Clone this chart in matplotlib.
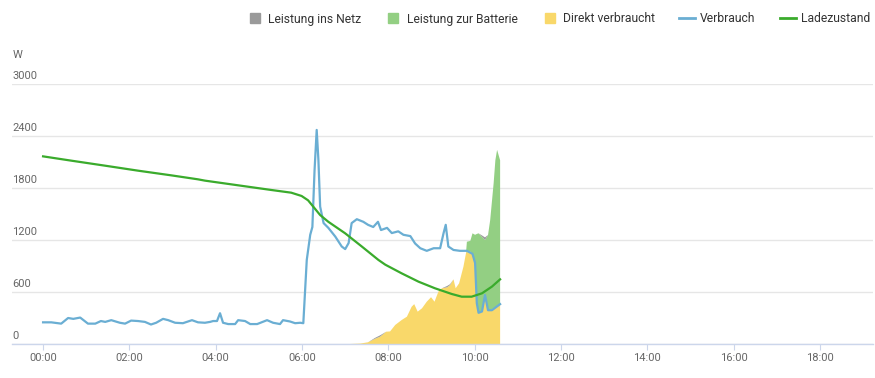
import matplotlib
matplotlib.use("Agg")
import matplotlib.pyplot as plt
from matplotlib.lines import Line2D
from matplotlib.transforms import blended_transform_factory

plt.rcParams['font.family'] = ['Roboto', 'DejaVu Sans']

# ---------------- data (time in hours since 00:00, values in W) ----------------
verbrauch_t = [0.00, 0.19, 0.42, 0.58, 0.70, 0.86, 1.04, 1.21, 1.34, 1.44, 1.58, 1.78, 1.90,
               2.04, 2.20, 2.36, 2.50, 2.62, 2.78, 2.90, 3.06, 3.24, 3.45, 3.59, 3.75, 3.87,
               3.94, 4.03, 4.10, 4.17, 4.29, 4.45, 4.52, 4.68, 4.80, 4.96, 5.19, 5.33, 5.49,
               5.56, 5.72, 5.84, 5.96, 6.03, 6.11, 6.19, 6.24, 6.29, 6.34, 6.38, 6.42, 6.50,
               6.61, 6.77, 6.92, 7.00, 7.08, 7.15, 7.27, 7.42, 7.53, 7.65, 7.76, 7.83, 7.97,
               8.08, 8.23, 8.35, 8.51, 8.62, 8.74, 8.89, 9.05, 9.20, 9.28, 9.33, 9.39, 9.51,
               9.66, 9.82, 9.95, 10.01, 10.05, 10.09, 10.17, 10.24, 10.31, 10.40, 10.59]
verbrauch_w = [250, 250, 235, 300, 290, 305, 235, 235, 265, 255, 275, 245, 235,
               270, 265, 255, 225, 245, 290, 275, 245, 240, 275, 250, 245, 255,
               265, 265, 355, 245, 230, 230, 275, 265, 230, 230, 275, 245, 230,
               275, 260, 240, 245, 240, 970, 1260, 1350, 2000, 2470, 2120, 1585, 1395,
               1340, 1240, 1125, 1095, 1165, 1395, 1440, 1410, 1375, 1350, 1410, 1315, 1340,
               1280, 1300, 1260, 1245, 1160, 1105, 1075, 1105, 1105, 1280, 1375, 1125, 1085,
               1075, 1075, 1040, 935, 470, 360, 375, 565, 390, 390, 460]

prod_t = [7.11, 7.35, 7.53, 7.69, 7.81, 7.95, 8.04, 8.16, 8.31, 8.43,
          8.54, 8.60, 8.68, 8.78, 8.89, 8.99, 9.07, 9.16, 9.24, 9.36,
          9.43, 9.51, 9.56, 9.64, 9.74, 9.80, 9.82, 9.90, 9.95, 10.01,
          10.05, 10.09, 10.17, 10.24, 10.31, 10.36, 10.44, 10.48, 10.52, 10.59]
direkt_w = [0, 5, 20, 60, 85, 142, 145, 220, 277, 315,
            430, 460, 373, 412, 488, 540, 488, 604, 643, 654,
            680, 746, 643, 700, 892, 1050, 1065, 1065, 1040, 935,
            470, 360, 375, 565, 390, 390, 410, 420, 430, 460]
batterie_w = [0, 0, 0, 0, 0, 0, 0, 0, 0, 0,
              0, 0, 0, 0, 0, 0, 0, 0, 0, 0,
              0, 0, 0, 0, 0, 0, 115, 125, 237, 325,
              800, 917, 863, 635, 868, 1040, 1445, 1700, 1810, 1660]
netz_w = [0, 0, 0, 10, 15, 0, 0, 0, 0, 0,
          0, 0, 0, 0, 0, 0, 0, 0, 0, 15,
          10, 0, 0, 0, 0, 0, 0, 0, 0, 0,
          0, 0, 15, 30, 0, 0, 0, 0, 0, 0]

soc_t = [0.00, 0.66, 1.43, 2.20, 2.97, 3.59, 3.75, 4.52, 5.29, 5.75,
         5.99, 6.14, 6.26, 6.42, 6.61, 7.00, 7.39, 7.77, 7.93, 8.31,
         8.70, 9.08, 9.47, 9.70, 9.93, 10.17, 10.40, 10.59]
soc_w = [2165, 2115, 2058, 2000, 1946, 1900, 1885, 1831, 1777, 1746,
         1708, 1658, 1585, 1488, 1410, 1277, 1123, 970, 915, 815,
         719, 643, 577, 546, 546, 585, 662, 746]

y_ticks = [0, 600, 1200, 1800, 2400, 3000]
x_ticks = [0, 2, 4, 6, 8, 10, 12, 14, 16, 18]
x_labels = ['00:00', '02:00', '04:00', '06:00', '08:00', '10:00',
            '12:00', '14:00', '16:00', '18:00']
legend_labels = ['Leistung ins Netz', 'Leistung zur Batterie', 'Direkt verbraucht',
                 'Verbrauch', 'Ladezustand']

# ---------------- styling ----------------
c_netz = '#9a9a9a'
c_batt = '#93cf83'
c_direkt = '#f9d86a'
c_verb = '#6aaed3'
c_soc = '#3aab2c'
c_label = '#666666'
c_grid = '#e6e6e6'

W, H = 875, 378
fig = plt.figure(figsize=(W / 100, H / 100), dpi=100)
ax = fig.add_axes([12 / W, 1 - 344 / H, (873 - 12) / W, (344 - 84) / H])

ax.stackplot(prod_t, direkt_w, batterie_w, netz_w,
             colors=[c_direkt, c_batt, c_netz], linewidth=0, zorder=2)
ax.plot(verbrauch_t, verbrauch_w, color=c_verb, lw=1.6, zorder=3,
        solid_joinstyle='round')
ax.plot(soc_t, soc_w, color=c_soc, lw=1.6, zorder=4, solid_joinstyle='round')

ax.set_xlim(-0.72, 19.23)
ax.set_ylim(0, 3000)

ax.set_yticks(y_ticks)
ax.tick_params(axis='y', length=0, labelleft=False)
ax.yaxis.grid(True, color=c_grid, lw=1)
ax.set_axisbelow(True)
trans = blended_transform_factory(ax.transAxes, ax.transData)
for v in y_ticks:
    ax.annotate(str(v), xy=(0, v), xycoords=trans, xytext=(0.3, 2.5),
                textcoords='offset points', ha='left', va='bottom',
                fontsize=8, color=c_label, annotation_clip=False)

ax.set_xticks(x_ticks, x_labels)
ax.tick_params(axis='x', length=4.5, width=0.8, color='#ccd6eb', labelsize=8,
               labelcolor=c_label, pad=2)

for s in ['top', 'left', 'right']:
    ax.spines[s].set_visible(False)
ax.spines['bottom'].set_color('#ccd6eb')
ax.spines['bottom'].set_linewidth(1)

fig.text(13 / W, 1 - 55 / H, 'W', fontsize=8, color=c_label, va='center', ha='left')

handles = [
    Line2D([], [], marker='s', linestyle='', markersize=7.3, color=c_netz),
    Line2D([], [], marker='s', linestyle='', markersize=7.3, color=c_batt),
    Line2D([], [], marker='s', linestyle='', markersize=7.3, color=c_direkt),
    Line2D([], [], color=c_verb, lw=2),
    Line2D([], [], color=c_soc, lw=2),
]
fig.legend(handles, legend_labels, loc='center right',
           bbox_to_anchor=(870 / W, 1 - 19 / H), ncol=5, frameon=False,
           fontsize=8.7, handlelength=1.33, handletextpad=0.42, columnspacing=2.0,
           labelcolor='#333333', borderaxespad=0, borderpad=0)

fig.savefig('out.png', dpi=100)
